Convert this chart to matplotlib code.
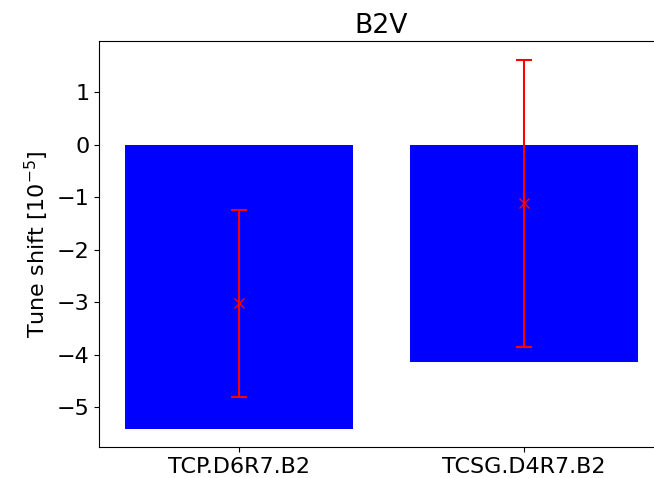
import matplotlib.pyplot as plt

collimators = ['TCP.D6R7.B2', 'TCSG.D4R7.B2']
bar_shift = [-5.41, -4.14]
meas_shift = [-3.02, -1.12]
meas_err = [1.78, 2.74]

plt.rcParams['font.size'] = 16

fig = plt.figure(figsize=(6.54, 4.78), dpi=100)
ax = fig.add_axes([0.1514, 0.0649, 0.864, 0.849])

x = range(len(collimators))
ax.bar(x, bar_shift, width=0.8, color='blue')
ax.errorbar(x, meas_shift, yerr=meas_err, fmt='x', color='red',
            ecolor='red', capsize=6, markersize=7, elinewidth=1.5, capthick=1.5)

ax.set_xticks(list(x))
ax.set_xticklabels(collimators)
ax.set_ylabel(r'Tune shift [$10^{-5}$]')
ax.set_title('B2V')

plt.savefig('out.png', dpi=100)
plt.close()
